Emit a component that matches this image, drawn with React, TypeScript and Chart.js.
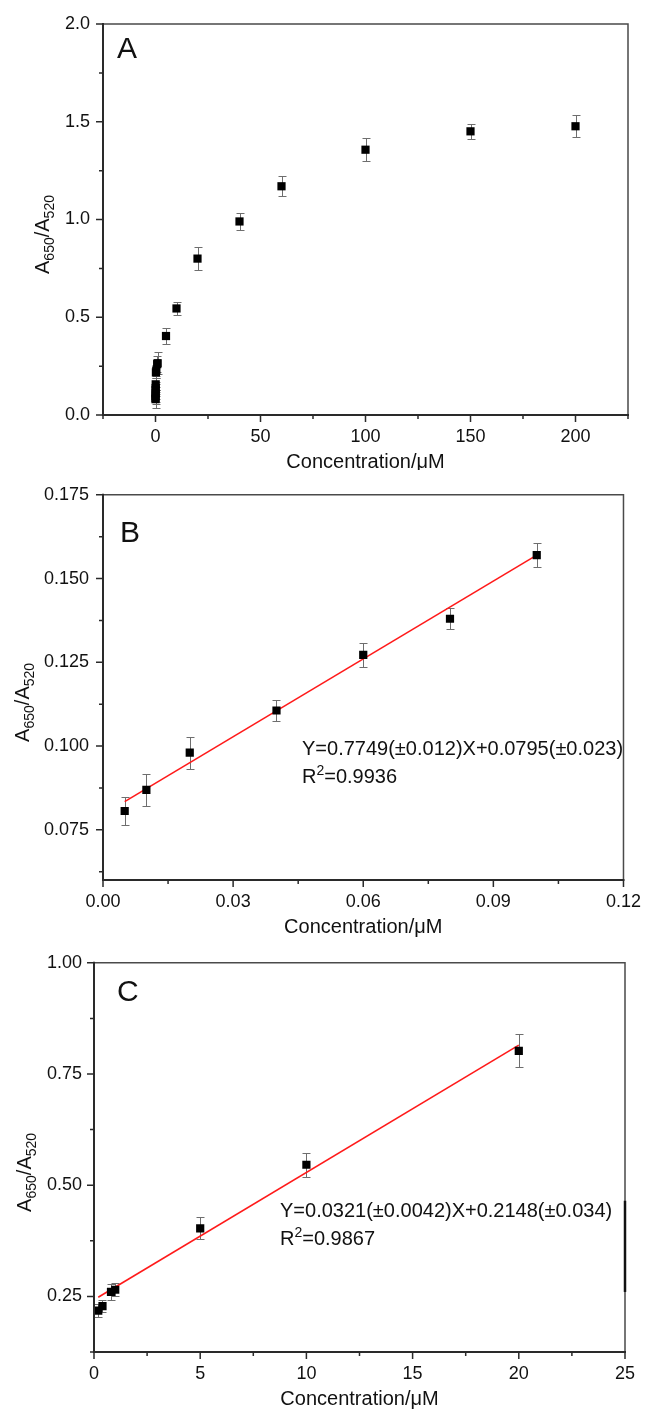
import React, { useEffect, useRef } from 'react';
import { Chart, registerables } from 'chart.js';

Chart.register(...registerables);

const FONT = '"Liberation Sans", Arial, Helvetica, sans-serif';

// ---------- Panel A data ----------
const aConc = [0.005, 0.01, 0.02, 0.04, 0.06, 0.08, 0.1, 0.2, 0.4, 0.8, 1, 5, 10, 20, 40, 60, 100, 150, 200];
const aRatio = [0.081, 0.087, 0.098, 0.111, 0.127, 0.138, 0.157, 0.218, 0.228, 0.26, 0.265, 0.404, 0.545, 0.8, 0.99, 1.17, 1.357, 1.451, 1.477];
const aErr = [0.045, 0.03, 0.03, 0.03, 0.03, 0.03, 0.03, 0.03, 0.03, 0.04, 0.055, 0.04, 0.035, 0.06, 0.045, 0.05, 0.06, 0.04, 0.055];
const aXTicks = [0, 50, 100, 150, 200];
const aXTickLabels = ['0', '50', '100', '150', '200'];
const aXMinor = [-25, 25, 75, 125, 175, 225];
const aYTicks = [0, 0.5, 1.0, 1.5, 2.0];
const aYTickLabels = ['0.0', '0.5', '1.0', '1.5', '2.0'];
const aYMinor = [0.25, 0.75, 1.25, 1.75];

// ---------- Panel B data ----------
const bConc = [0.005, 0.01, 0.02, 0.04, 0.06, 0.08, 0.1];
const bRatio = [0.0806, 0.0869, 0.098, 0.1106, 0.1272, 0.138, 0.157];
const bErr = [0.0042, 0.0048, 0.0048, 0.003, 0.0036, 0.0031, 0.0036];
const bFitX = [0.005, 0.1];
const bFitY = [0.0834, 0.157];
const bXTicks = [0, 0.03, 0.06, 0.09, 0.12];
const bXTickLabels = ['0.00', '0.03', '0.06', '0.09', '0.12'];
const bXMinor = [0.015, 0.045, 0.075, 0.105];
const bYTicks = [0.075, 0.1, 0.125, 0.15, 0.175];
const bYTickLabels = ['0.075', '0.100', '0.125', '0.150', '0.175'];
const bYMinor = [0.0625, 0.0875, 0.1125, 0.1375, 0.1625];
const bEquation = 'Y=0.7749(\u00b10.012)X+0.0795(\u00b10.023)';
const bR2 = '=0.9936';

// ---------- Panel C data ----------
const cConc = [0.2, 0.4, 0.8, 1, 5, 10, 20];
const cRatio = [0.218, 0.228, 0.26, 0.265, 0.403, 0.546, 0.802];
const cErr = [0.015, 0.014, 0.017, 0.015, 0.025, 0.027, 0.037];
const cFitX = [0.2, 20];
const cFitY = [0.248, 0.815];
const cXTicks = [0, 5, 10, 15, 20, 25];
const cXTickLabels = ['0', '5', '10', '15', '20', '25'];
const cXMinor = [2.5, 7.5, 12.5, 17.5, 22.5];
const cYTicks = [0.25, 0.5, 0.75, 1.0];
const cYTickLabels = ['0.25', '0.50', '0.75', '1.00'];
const cYMinor = [0.125, 0.375, 0.625, 0.875];
const cEquation = 'Y=0.0321(\u00b10.0042)X+0.2148(\u00b10.034)';
const cR2 = '=0.9867';
const cRightMark = [0.26, 0.465];

const xTitle = 'Concentration/\u03bcM';

type Panel = {
  letter: string;
  canvasTop: number;
  canvasH: number;
  area: { left: number; right: number; top: number; bottom: number };
  xMin: number; xMax: number; yMin: number; yMax: number;
  xs: number[]; ys: number[]; errs: number[];
  fitX?: number[]; fitY?: number[];
  xTicks: number[]; xLabels: string[]; xMinor: number[];
  yTicks: number[]; yLabels: string[]; yMinor: number[];
  yLabelPad: number;
  letterPos: { dx: number; dy: number };
  yTitleX: number;
  eq?: string; r2?: string; eqPos?: { x: number; y: number };
  rightMark?: number[];
};

const panels: Panel[] = [
  {
    letter: 'A', canvasTop: 0, canvasH: 470,
    area: { left: 103, right: 628, top: 24, bottom: 415 },
    xMin: -25, xMax: 225, yMin: 0, yMax: 2.0,
    xs: aConc, ys: aRatio, errs: aErr,
    xTicks: aXTicks, xLabels: aXTickLabels, xMinor: aXMinor,
    yTicks: aYTicks, yLabels: aYTickLabels, yMinor: aYMinor,
    yLabelPad: 13, letterPos: { dx: 14, dy: 34 }, yTitleX: 49,
  },
  {
    letter: 'B', canvasTop: 470, canvasH: 470,
    area: { left: 103, right: 631, top: 18, bottom: 410 },
    xMin: 0, xMax: 0.12, yMin: 0.06, yMax: 0.175,
    xs: bConc, ys: bRatio, errs: bErr, fitX: bFitX, fitY: bFitY,
    xTicks: bXTicks, xLabels: bXTickLabels, xMinor: bXMinor,
    yTicks: bYTicks, yLabels: bYTickLabels, yMinor: bYMinor,
    yLabelPad: 14, letterPos: { dx: 17, dy: 47 }, yTitleX: 29,
    eq: bEquation, r2: bR2, eqPos: { x: 302, y: 285 },
  },
  {
    letter: 'C', canvasTop: 940, canvasH: 470,
    area: { left: 94, right: 625, top: 17, bottom: 412 },
    xMin: 0, xMax: 25, yMin: 0.125, yMax: 1.0,
    xs: cConc, ys: cRatio, errs: cErr, fitX: cFitX, fitY: cFitY,
    xTicks: cXTicks, xLabels: cXTickLabels, xMinor: cXMinor,
    yTicks: cYTicks, yLabels: cYTickLabels, yMinor: cYMinor,
    yLabelPad: 12, letterPos: { dx: 23, dy: 38 }, yTitleX: 31,
    eq: cEquation, r2: cR2, eqPos: { x: 280, y: 277 },
    rightMark: cRightMark,
  },
];

function decorPlugin(p: Panel) {
  return {
    id: 'decor' + p.letter,
    beforeDatasetsDraw(chart: any) {
      const { ctx } = chart;
      const xs = chart.scales.x;
      const ys = chart.scales.y;
      ctx.save();
      ctx.strokeStyle = '#6e6e6e';
      ctx.lineWidth = 1;
      p.xs.forEach((xv, i) => {
        const px = Math.round(xs.getPixelForValue(xv)) + 0.5;
        const t = Math.round(ys.getPixelForValue(p.ys[i] + p.errs[i])) + 0.5;
        const b = Math.round(ys.getPixelForValue(p.ys[i] - p.errs[i])) + 0.5;
        ctx.beginPath();
        ctx.moveTo(px, t); ctx.lineTo(px, b);
        ctx.moveTo(px - 4, t); ctx.lineTo(px + 4, t);
        ctx.moveTo(px - 4, b); ctx.lineTo(px + 4, b);
        ctx.stroke();
      });
      ctx.restore();
    },
    afterDraw(chart: any) {
      const { ctx, chartArea: ca } = chart;
      const xs = chart.scales.x;
      const ys = chart.scales.y;
      ctx.save();
      // frame
      ctx.strokeStyle = '#4a4a4a';
      ctx.lineWidth = 1.5;
      ctx.beginPath();
      ctx.moveTo(ca.left, ca.top); ctx.lineTo(ca.right, ca.top); ctx.lineTo(ca.right, ca.bottom);
      ctx.stroke();
      ctx.strokeStyle = '#2a2a2a';
      ctx.lineWidth = 2;
      ctx.beginPath();
      ctx.moveTo(ca.left, ca.top - 1); ctx.lineTo(ca.left, ca.bottom); ctx.lineTo(ca.right + 1, ca.bottom);
      ctx.stroke();
      if (p.rightMark) {
        ctx.strokeStyle = '#111';
        ctx.lineWidth = 2.5;
        ctx.beginPath();
        ctx.moveTo(ca.right, ys.getPixelForValue(p.rightMark[0]));
        ctx.lineTo(ca.right, ys.getPixelForValue(p.rightMark[1]));
        ctx.stroke();
      }
      // ticks
      ctx.strokeStyle = '#2a2a2a';
      ctx.lineWidth = 1.5;
      ctx.beginPath();
      p.xTicks.forEach((v) => {
        const px = xs.getPixelForValue(v);
        ctx.moveTo(px, ca.bottom); ctx.lineTo(px, ca.bottom + 7);
      });
      p.xMinor.forEach((v) => {
        const px = xs.getPixelForValue(v);
        ctx.moveTo(px, ca.bottom); ctx.lineTo(px, ca.bottom + 4);
      });
      p.yTicks.forEach((v) => {
        const py = ys.getPixelForValue(v);
        ctx.moveTo(ca.left, py); ctx.lineTo(ca.left - 7, py);
      });
      p.yMinor.forEach((v) => {
        const py = ys.getPixelForValue(v);
        ctx.moveTo(ca.left, py); ctx.lineTo(ca.left - 4, py);
      });
      ctx.stroke();

      ctx.fillStyle = '#111';
      // panel letter
      ctx.font = `30px ${FONT}`;
      ctx.textAlign = 'left';
      ctx.textBaseline = 'alphabetic';
      ctx.fillText(p.letter, ca.left + p.letterPos.dx, ca.top + p.letterPos.dy);

      // x title
      ctx.font = `20px ${FONT}`;
      ctx.textAlign = 'center';
      ctx.textBaseline = 'middle';
      ctx.fillText(xTitle, (ca.left + ca.right) / 2, ca.bottom + 47);

      // y title A650/A520 with subscripts
      const big = `20px ${FONT}`;
      const small = `14px ${FONT}`;
      const parts: [string, boolean][] = [['A', false], ['650', true], ['/A', false], ['520', true]];
      let total = 0;
      parts.forEach(([t, s]) => { ctx.font = s ? small : big; total += ctx.measureText(t).width; });
      ctx.save();
      ctx.translate(p.yTitleX, (ca.top + ca.bottom) / 2 + 15);
      ctx.rotate(-Math.PI / 2);
      ctx.textAlign = 'left';
      ctx.textBaseline = 'alphabetic';
      let cx = -total / 2;
      parts.forEach(([t, s]) => {
        ctx.font = s ? small : big;
        ctx.fillText(t, cx, s ? 5 : 0);
        cx += ctx.measureText(t).width;
      });
      ctx.restore();

      // equation and R^2
      if (p.eq && p.eqPos && p.r2) {
        ctx.textAlign = 'left';
        ctx.textBaseline = 'alphabetic';
        ctx.font = big;
        ctx.fillText(p.eq, p.eqPos.x, p.eqPos.y);
        const ry = p.eqPos.y + 28;
        let rx = p.eqPos.x;
        ctx.fillText('R', rx, ry);
        rx += ctx.measureText('R').width;
        ctx.font = small;
        ctx.fillText('2', rx, ry - 8);
        rx += ctx.measureText('2').width;
        ctx.font = big;
        ctx.fillText(p.r2, rx, ry);
      }
      ctx.restore();
    },
  };
}

function makeConfig(p: Panel): any {
  const datasets: any[] = [
    {
      type: 'scatter',
      data: p.xs.map((x, i) => ({ x, y: p.ys[i] })),
      pointStyle: 'rect',
      pointRadius: 5.8,
      pointBackgroundColor: '#000',
      pointBorderColor: '#000',
      pointBorderWidth: 0,
      showLine: false,
      order: 1,
    },
  ];
  if (p.fitX && p.fitY) {
    const fy = p.fitY;
    datasets.push({
      type: 'line',
      data: p.fitX.map((x, i) => ({ x, y: fy[i] })),
      borderColor: '#ff1a1a',
      borderWidth: 1.6,
      pointRadius: 0,
      fill: false,
      tension: 0,
      order: 2,
    });
  }
  const tickFont = { family: FONT, size: 18 };
  return {
    type: 'scatter',
    data: { datasets },
    options: {
      responsive: false,
      animation: false,
      devicePixelRatio: 1,
      layout: { padding: { top: p.area.top, right: 652 - p.area.right, left: 0, bottom: 0 } },
      plugins: { legend: { display: false }, tooltip: { enabled: false }, title: { display: false } },
      scales: {
        x: {
          type: 'linear',
          position: 'bottom',
          min: p.xMin,
          max: p.xMax,
          grid: { display: false, drawTicks: false },
          border: { display: false },
          afterBuildTicks: (s: any) => { s.ticks = p.xTicks.map((v) => ({ value: v })); },
          afterFit: (s: any) => { s.height = p.canvasH - p.area.bottom; },
          ticks: {
            padding: 11,
            color: '#111',
            font: tickFont,
            maxRotation: 0,
            autoSkip: false,
            callback: (_v: any, i: number) => p.xLabels[i],
          },
        },
        y: {
          type: 'linear',
          position: 'left',
          min: p.yMin,
          max: p.yMax,
          grid: { display: false, drawTicks: false },
          border: { display: false },
          afterBuildTicks: (s: any) => { s.ticks = p.yTicks.map((v) => ({ value: v })); },
          afterFit: (s: any) => { s.width = p.area.left; },
          ticks: {
            padding: p.yLabelPad,
            color: '#111',
            font: tickFont,
            autoSkip: false,
            callback: (_v: any, i: number) => p.yLabels[i],
          },
        },
      },
    },
    plugins: [decorPlugin(p)],
  };
}

function PanelChart({ p }: { p: Panel }) {
  const ref = useRef<HTMLCanvasElement | null>(null);
  useEffect(() => {
    if (!ref.current) return;
    const chart = new Chart(ref.current, makeConfig(p));
    return () => chart.destroy();
  }, [p]);
  return (
    <canvas
      ref={ref}
      width={652}
      height={p.canvasH}
      style={{ position: 'absolute', left: 0, top: p.canvasTop, width: 652, height: p.canvasH }}
    />
  );
}

export default function App() {
  return (
    <div style={{ position: 'absolute', left: 0, top: 0, width: 652, height: 1410, background: '#fff', overflow: 'hidden' }}>
      {panels.map((p) => (
        <PanelChart key={p.letter} p={p} />
      ))}
    </div>
  );
}
